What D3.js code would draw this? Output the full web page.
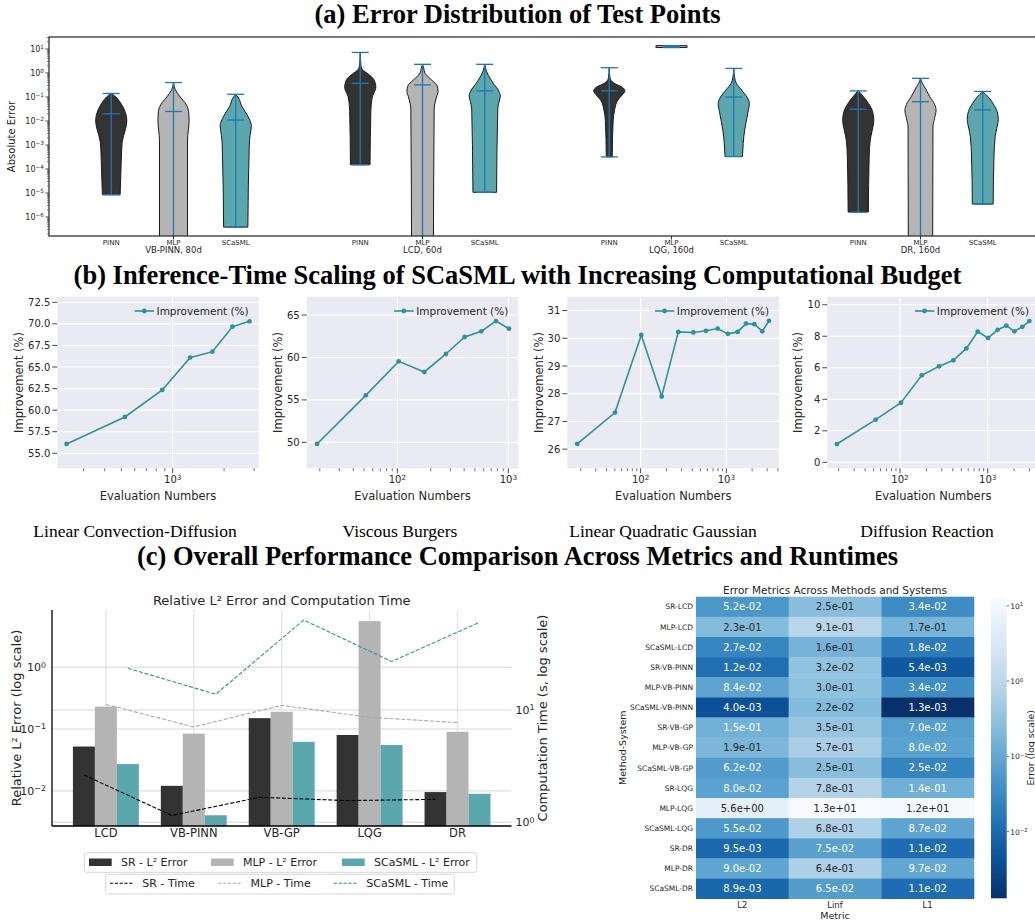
<!DOCTYPE html>
<html><head><meta charset="utf-8">
<script src="https://cdn.jsdelivr.net/npm/d3@7"></script>
<style>body{margin:0;background:#fff}svg{display:block}</style>
</head><body>
<script>
// ---------------- DATA ----------------
// (a) violins
const vGroups = ["VB-PINN, 80d", "LCD, 60d", "LQG, 160d", "DR, 160d"];
const vMethods = ["PINN", "MLP", "SCaSML"];
const vMin = [[8.5e-6, 1e-8, 3.8e-7], [1.5e-4, 1e-8, 1.07e-5], [3.2e-4, 11.5, 3.3e-4], [1.6e-6, 1e-8, 3.5e-6]];
const vMax = [[0.14, 0.4, 0.13], [7.2, 2.3, 2.3], [1.66, 13.8, 1.55], [0.18, 0.6, 0.17]];
const vMed = [[0.02, 0.025, 0.011], [0.37, 0.32, 0.18], [0.18, 12.5, 0.1], [0.031, 0.064, 0.029]];
// density profile: [log10(error), relative half width]
const vShape = [
  [
    [[-0.85,0],[-1.0,0.3],[-1.2,0.55],[-1.5,0.82],[-1.8,0.97],[-2.0,1.0],[-2.3,0.93],[-2.6,0.8],[-2.9,0.7],[-3.5,0.65],[-4.5,0.6],[-5.07,0.57]],
    [[-0.4,0],[-0.7,0.12],[-1.0,0.43],[-1.3,0.8],[-1.6,0.97],[-2.0,1.0],[-2.4,0.95],[-2.8,0.9],[-8,0.9]],
    [[-0.89,0],[-1.0,0.14],[-1.4,0.4],[-1.8,0.78],[-2.2,1.0],[-2.6,0.92],[-3.0,0.87],[-6.42,0.78]]
  ],
  [
    [[0.86,0],[0.3,0.05],[0.1,0.2],[0.0,0.42],[-0.3,0.9],[-0.6,1.0],[-0.8,0.9],[-1.0,0.77],[-1.6,0.68],[-3.82,0.63]],
    [[0.36,0],[0.2,0.08],[0.0,0.15],[-0.3,0.6],[-0.55,0.95],[-0.77,1.0],[-1.0,0.9],[-1.5,0.75],[-8,0.7]],
    [[0.36,0],[0.1,0.1],[0.0,0.16],[-0.43,0.55],[-0.75,0.9],[-0.96,1.0],[-1.2,0.92],[-1.46,0.84],[-4.97,0.76]]
  ],
  [
    [[0.22,0],[-0.2,0.05],[-0.43,0.32],[-0.6,0.85],[-0.75,1.0],[-0.9,0.85],[-1.13,0.55],[-1.55,0.34],[-1.97,0.25],[-3.49,0.19]],
    [[1.14,1],[1.06,1]],
    [[0.19,0],[-0.2,0.06],[-0.43,0.17],[-0.71,0.5],[-1.0,0.85],[-1.26,1.0],[-1.68,0.9],[-2.38,0.7],[-3.48,0.56]]
  ],
  [
    [[-0.74,0],[-0.99,0.34],[-1.26,0.65],[-1.6,0.92],[-1.97,1.0],[-2.38,0.9],[-2.79,0.77],[-3.5,0.7],[-5.79,0.65]],
    [[-0.22,0],[-0.4,0.1],[-0.57,0.25],[-0.99,0.6],[-1.3,0.9],[-1.55,1.0],[-1.9,0.9],[-2.24,0.8],[-8,0.78]],
    [[-0.78,0],[-0.99,0.34],[-1.26,0.65],[-1.6,0.92],[-1.93,1.0],[-2.3,0.9],[-2.65,0.8],[-3.5,0.72],[-5.46,0.67]]
  ]
];
const vExpTicks = [-6, -5, -4, -3, -2, -1, 0, 1];

// (b) inference-time scaling
const bSubtitles = ["Linear Convection-Diffusion", "Viscous Burgers", "Linear Quadratic Gaussian", "Diffusion Reaction"];
const bEval1 = [239, 525, 869, 1264, 1709, 2240, 2818];
const bImp1  = [56.08, 59.21, 62.34, 66.09, 66.78, 69.68, 70.30];
const bEval2 = [18.9, 51.9, 102.8, 175, 274, 404, 571, 774, 1014];
const bImp2  = [49.81, 55.54, 59.54, 58.29, 60.41, 62.41, 63.08, 64.29, 63.39];
const bEval3 = [18.2, 50.2, 101.8, 176, 275, 412, 579, 792, 1045, 1355, 1698, 2124, 2632, 3150];
const bImp3  = [26.19, 27.32, 30.12, 27.90, 30.23, 30.21, 30.27, 30.35, 30.16, 30.23, 30.53, 30.51, 30.25, 30.63];
const bEval4 = [19.1, 52.8, 102.6, 177, 279, 406, 571, 769, 1009, 1300, 1633, 2014, 2485, 2988];
const bImp4  = [1.16, 2.71, 3.78, 5.52, 6.09, 6.47, 7.23, 8.29, 7.89, 8.41, 8.67, 8.31, 8.60, 8.96];
const bYTicks1 = [55, 57.5, 60, 62.5, 65, 67.5, 70, 72.5];
const bYTicks2 = [50, 55, 60, 65];
const bYTicks3 = [26, 27, 28, 29, 30, 31];
const bYTicks4 = [0, 2, 4, 6, 8, 10];

// (c) bars + time
const cCats = ["LCD", "VB-PINN", "VB-GP", "LQG", "DR"];
const errSR  = [0.052, 0.012, 0.15, 0.08, 0.0095];
const errMLP = [0.23, 0.084, 0.19, 5.6, 0.09];
const errSC  = [0.027, 0.004, 0.062, 0.055, 0.0089];
const timeSR  = [2.64, 1.15, 1.67, 1.56, 1.60];
const timeMLP = [11.2, 7.06, 11.0, 8.6, 7.72];
const timeSC  = [23.5, 13.8, 63.2, 27.0, 60.3];

// (c) heatmap (annotated values, and the values the cell shades read as)
const hRows = ["SR-LCD","MLP-LCD","SCaSML-LCD","SR-VB-PINN","MLP-VB-PINN","SCaSML-VB-PINN","SR-VB-GP","MLP-VB-GP","SCaSML-VB-GP","SR-LQG","MLP-LQG","SCaSML-LQG","SR-DR","MLP-DR","SCaSML-DR"];
const hCols = ["L2", "Linf", "L1"];
const hL2   = [5.2e-2,2.3e-1,2.7e-2,1.2e-2,8.4e-2,4.0e-3,1.5e-1,1.9e-1,6.2e-2,8.0e-2,5.6,5.5e-2,9.5e-3,9.0e-2,8.9e-3];
const hLinf = [2.5e-1,9.1e-1,1.6e-1,3.2e-2,3.0e-1,2.2e-2,3.5e-1,5.7e-1,2.5e-1,7.8e-1,13,6.8e-1,7.5e-2,6.4e-1,6.5e-2];
const hL1   = [3.4e-2,1.7e-1,1.8e-2,5.4e-3,3.4e-2,1.3e-3,7.0e-2,8.0e-2,2.5e-2,1.4e-1,12,8.7e-2,1.1e-2,9.7e-2,1.1e-2];
const hLinfShade = [2.5e-1,9.1e-1,1.6e-1,3.2e-1,3.0e-1,2.2e-1,3.5e-1,5.7e-1,2.5e-1,7.8e-1,13,6.8e-1,7.5e-2,6.4e-1,6.5e-2];
const hExpTicks = [-2, -1, 0, 1];

// ---------------- DRAW ----------------
const W = 1035, H = 922;
const SERIF = '"Liberation Serif","Times New Roman",Times,serif';
const SANS = '"DejaVu Sans",sans-serif';
const TXT = "#262626";
const svg = d3.select("body").append("svg").attr("width", W).attr("height", H).style("font-family", SANS);
const defs = svg.append("defs");

function pow10Label(sel, e) {
  sel.append("tspan").text("10");
  sel.append("tspan").attr("dy", "-0.45em").attr("font-size", "72%").text(e < 0 ? "\u2212" + (-e) : String(e));
}
function bigTitle(txt, y) {
  svg.append("text").attr("x", W / 2).attr("y", y).attr("text-anchor", "middle")
    .style("font-family", SERIF).attr("font-weight", "bold").attr("font-size", 26.5).attr("fill", "#000").text(txt);
}

// ===== (a) =====
bigTitle("(a) Error Distribution of Test Points", 23);
const aL = 49, aT = 37, aB = 236, aR = 1045;
const ax = d3.scaleLinear().domain([-1, 15]).range([aL, aR]);
const ay = d3.scaleLog().domain([Math.pow(10, -6.79), Math.pow(10, 1.5)]).range([aB, aT]);
defs.append("clipPath").attr("id", "clipA").append("rect").attr("x", aL).attr("y", aT).attr("width", aR - aL).attr("height", aB - aT);
const plotA = svg.append("g").attr("clip-path", "url(#clipA)");
const vColors = ["#333333", "#b4b4b4", "#5aa8ae"];
const hw = ax(0.25) - ax(0);
vGroups.forEach((g, gi) => vMethods.forEach((m, mi) => {
  const cx = ax(gi * 4 + mi);
  const area = d3.area().curve(d3.curveMonotoneY)
    .y(d => ay(Math.pow(10, d[0]))).x0(d => cx - d[1] * hw).x1(d => cx + d[1] * hw);
  plotA.append("path").attr("d", area(vShape[gi][mi])).attr("fill", vColors[mi])
    .attr("stroke", "#1a1a1a").attr("stroke-width", 1);
}));
const blue = "#1f77b4";
vGroups.forEach((g, gi) => vMethods.forEach((m, mi) => {
  const cx = ax(gi * 4 + mi);
  plotA.append("line").attr("x1", cx).attr("x2", cx).attr("y1", ay(vMin[gi][mi])).attr("y2", ay(vMax[gi][mi]))
    .attr("stroke", blue).attr("stroke-width", 1.3);
  [vMin[gi][mi], vMax[gi][mi], vMed[gi][mi]].forEach(v => {
    plotA.append("line").attr("x1", cx - 8.5).attr("x2", cx + 8.5).attr("y1", ay(v)).attr("y2", ay(v))
      .attr("stroke", blue).attr("stroke-width", 1.3);
  });
}));
svg.append("rect").attr("x", aL).attr("y", aT).attr("width", aR - aL).attr("height", aB - aT)
  .attr("fill", "none").attr("stroke", "#333").attr("stroke-width", 1.3);
for (let e = -7; e <= 1; e++) for (let k = 2; k <= 9; k++) {
  const v = k * Math.pow(10, e);
  if (v < ay.domain()[0] || v > ay.domain()[1]) continue;
  svg.append("line").attr("x1", aL - 2).attr("x2", aL).attr("y1", ay(v)).attr("y2", ay(v)).attr("stroke", "#333").attr("stroke-width", 0.7);
}
vExpTicks.forEach(e => {
  const y = ay(Math.pow(10, e));
  svg.append("line").attr("x1", aL - 3.5).attr("x2", aL).attr("y1", y).attr("y2", y).attr("stroke", "#333").attr("stroke-width", 0.9);
  const t = svg.append("text").attr("x", aL - 5).attr("y", y + 3).attr("text-anchor", "end").attr("font-size", 8).attr("fill", TXT);
  pow10Label(t, e);
});
svg.append("text").attr("transform", "translate(15," + ((aT + aB) / 2) + ") rotate(-90)").attr("text-anchor", "middle")
  .attr("font-size", 10).attr("fill", TXT).text("Absolute Error");
vGroups.forEach((g, gi) => {
  vMethods.forEach((m, mi) => {
    svg.append("text").attr("x", ax(gi * 4 + mi)).attr("y", 245.3).attr("text-anchor", "middle")
      .attr("font-size", 7).attr("fill", TXT).text(m);
  });
  svg.append("line").attr("x1", ax(gi * 4 + 1)).attr("x2", ax(gi * 4 + 1)).attr("y1", aB).attr("y2", aB + 3.5).attr("stroke", "#333");
  svg.append("text").attr("x", ax(gi * 4 + 1)).attr("y", 253.3).attr("text-anchor", "middle")
    .attr("font-size", 8.5).attr("fill", TXT).text(g);
});

// ===== (b) =====
bigTitle("(b) Inference-Time Scaling of SCaSML with Increasing Computational Budget", 284);
const bTop = 296.7, bBot = 468.3;
const bPanels = [
  { l: 57.3,  r: 258.7, xd: [Math.pow(10, 2.324), Math.pow(10, 3.504)], yd: [53.26, 73.15], ticks: bYTicks1, fmt: d3.format(".1f"), ev: bEval1, imp: bImp1, ylx: 19, sx: 135 },
  { l: 306.7, r: 518.3, xd: [Math.pow(10, 1.183), Math.pow(10, 3.09)],  yd: [46.94, 67.16], ticks: bYTicks2, fmt: d3.format("d"),   ev: bEval2, imp: bImp2, ylx: 278, sx: 400 },
  { l: 567.3, r: 779,   xd: [Math.pow(10, 1.144), Math.pow(10, 3.615)], yd: [25.31, 31.5],  ticks: bYTicks3, fmt: d3.format("d"),   ev: bEval3, imp: bImp3, ylx: 539, sx: 663 },
  { l: 827.3, r: 1039,  xd: [Math.pow(10, 1.171), Math.pow(10, 3.585)], yd: [-0.38, 10.51], ticks: bYTicks4, fmt: d3.format("d"),   ev: bEval4, imp: bImp4, ylx: 798, sx: 927 }
];
const teal = "#2b939a";
bPanels.forEach((p, i) => {
  const x = d3.scaleLog().domain(p.xd).range([p.l, p.r]);
  const y = d3.scaleLinear().domain(p.yd).range([bBot, bTop]);
  const g = svg.append("g");
  g.append("rect").attr("x", p.l).attr("y", bTop).attr("width", p.r - p.l).attr("height", bBot - bTop).attr("fill", "#eaeaf2");
  p.ticks.forEach(t => {
    g.append("line").attr("x1", p.l).attr("x2", p.r).attr("y1", y(t)).attr("y2", y(t)).attr("stroke", "#fff").attr("stroke-width", 1.1);
    g.append("line").attr("x1", p.l - 5).attr("x2", p.l).attr("y1", y(t)).attr("y2", y(t)).attr("stroke", "#333").attr("stroke-width", 0.9);
    g.append("text").attr("x", p.l - 7).attr("y", y(t) + 3.6).attr("text-anchor", "end").attr("font-size", 10).attr("fill", TXT).text(p.fmt(t));
  });
  const lo = Math.floor(Math.log10(p.xd[0])), hi = Math.ceil(Math.log10(p.xd[1]));
  for (let e = lo; e <= hi; e++) {
    for (let k = 1; k <= 9; k++) {
      const v = k * Math.pow(10, e);
      if (v < p.xd[0] || v > p.xd[1]) continue;
      const xx = x(v);
      if (k === 1) {
        g.append("line").attr("x1", xx).attr("x2", xx).attr("y1", bTop).attr("y2", bBot).attr("stroke", "#fff").attr("stroke-width", 1.1);
        g.append("line").attr("x1", xx).attr("x2", xx).attr("y1", bBot).attr("y2", bBot + 5).attr("stroke", "#333").attr("stroke-width", 0.9);
        const t = g.append("text").attr("x", xx).attr("y", bBot + 15).attr("text-anchor", "middle").attr("font-size", 10).attr("fill", TXT);
        pow10Label(t, e);
      } else {
        g.append("line").attr("x1", xx).attr("x2", xx).attr("y1", bBot).attr("y2", bBot + 3).attr("stroke", "#333").attr("stroke-width", 0.7);
      }
    }
  }
  const pts = p.ev.map((e, j) => [e, p.imp[j]]);
  g.append("path").attr("d", d3.line().x(d => x(d[0])).y(d => y(d[1]))(pts)).attr("fill", "none").attr("stroke", teal).attr("stroke-width", 1.6);
  g.selectAll(null).data(pts).join("circle").attr("cx", d => x(d[0])).attr("cy", d => y(d[1])).attr("r", 2.4).attr("fill", teal);
  const lt = g.append("text").attr("x", p.r - 10).attr("y", 314.5).attr("text-anchor", "end").attr("font-size", 10.5).attr("fill", TXT).text("Improvement (%)");
  const tw = lt.node().getComputedTextLength();
  const lx2 = p.r - 10 - tw - 2.5, lx1 = lx2 - 19.5;
  g.append("line").attr("x1", lx1).attr("x2", lx2).attr("y1", 311).attr("y2", 311).attr("stroke", teal).attr("stroke-width", 1.6);
  g.append("circle").attr("cx", (lx1 + lx2) / 2).attr("cy", 311).attr("r", 2.4).attr("fill", teal);
  g.append("text").attr("x", (p.l + p.r) / 2).attr("y", 499.5).attr("text-anchor", "middle").attr("font-size", 11.5).attr("fill", TXT).text("Evaluation Numbers");
  g.append("text").attr("transform", "translate(" + (p.ylx + 4) + "," + ((bTop + bBot) / 2) + ") rotate(-90)").attr("text-anchor", "middle")
    .attr("font-size", 11.5).attr("fill", TXT).text("Improvement (%)");
  svg.append("text").attr("x", p.sx).attr("y", 537).attr("text-anchor", "middle").style("font-family", SERIF)
    .attr("font-size", 17.5).attr("fill", "#000").text(bSubtitles[i]);
});

// ===== (c) =====
bigTitle("(c) Overall Performance Comparison Across Metrics and Runtimes", 565);
const cL = 52, cR = 511.5, cT = 610, cB = 826;
const cx = d3.scaleLinear().domain([-0.613, 4.614]).range([cL, cR]);
const cyL = d3.scaleLog().domain([Math.pow(10, -2.572), Math.pow(10, 0.929)]).range([cB, cT]);
const cyR = d3.scaleLog().domain([Math.pow(10, -0.033), Math.pow(10, 1.89)]).range([cB, cT]);
const gC = svg.append("g");
const gridC = "#e4e4e4";
cCats.forEach((c, i) => gC.append("line").attr("x1", cx(i)).attr("x2", cx(i)).attr("y1", cT).attr("y2", cB).attr("stroke", gridC).attr("stroke-width", 1.4));
[-2, -1, 0].forEach(e => gC.append("line").attr("x1", cL).attr("x2", cR).attr("y1", cyL(Math.pow(10, e))).attr("y2", cyL(Math.pow(10, e))).attr("stroke", gridC).attr("stroke-width", 1.4));
[0, 1].forEach(e => gC.append("line").attr("x1", cL).attr("x2", cR).attr("y1", cyR(Math.pow(10, e))).attr("y2", cyR(Math.pow(10, e))).attr("stroke", gridC).attr("stroke-width", 1.4));
const barSets = [[errSR, "#333333", -0.25], [errMLP, "#b4b4b4", 0], [errSC, "#5aa8ae", 0.25]];
barSets.forEach(([vals, col, off]) => {
  gC.selectAll(null).data(vals).join("rect")
    .attr("x", (d, i) => cx(i + off - 0.125)).attr("width", cx(0.25) - cx(0))
    .attr("y", d => cyL(d)).attr("height", d => cB - cyL(d)).attr("fill", col);
});
const timeSets = [[timeSR, "#000000", -0.25], [timeMLP, "#aaaaaa", 0], [timeSC, teal, 0.25]];
timeSets.forEach(([vals, col, off]) => {
  gC.append("path").attr("d", d3.line().x((d, i) => cx(i + off)).y(d => cyR(d))(vals))
    .attr("fill", "none").attr("stroke", col).attr("stroke-width", 1.1).attr("stroke-dasharray", "4,1.8");
});
gC.append("line").attr("x1", cL).attr("x2", cL).attr("y1", cT).attr("y2", cB).attr("stroke", "#000").attr("stroke-width", 1.3);
gC.append("line").attr("x1", cL).attr("x2", cR).attr("y1", cB).attr("y2", cB).attr("stroke", "#000").attr("stroke-width", 1.3);
[-2, -1, 0].forEach(e => {
  const t = gC.append("text").attr("x", cL - 6).attr("y", cyL(Math.pow(10, e)) + 4).attr("text-anchor", "end").attr("font-size", 11).attr("fill", TXT);
  pow10Label(t, e);
});
[0, 1].forEach(e => {
  const t = gC.append("text").attr("x", cR + 4).attr("y", cyR(Math.pow(10, e)) + 4).attr("text-anchor", "start").attr("font-size", 11).attr("fill", TXT);
  pow10Label(t, e);
});
cCats.forEach((c, i) => gC.append("text").attr("x", cx(i)).attr("y", 837).attr("text-anchor", "middle").attr("font-size", 11.5).attr("fill", TXT).text(c));
gC.append("text").attr("x", (cL + cR) / 2).attr("y", 605).attr("text-anchor", "middle").attr("font-size", 13).attr("fill", TXT).text("Relative L\u00b2 Error and Computation Time");
gC.append("text").attr("transform", "translate(21," + ((cT + cB) / 2) + ") rotate(-90)").attr("text-anchor", "middle").attr("font-size", 13).attr("fill", TXT).text("Relative L\u00b2 Error (log scale)");
gC.append("text").attr("transform", "translate(547," + ((cT + cB) / 2) + ") rotate(-90)").attr("text-anchor", "middle").attr("font-size", 13).attr("fill", TXT).text("Computation Time (s, log scale)");
gC.append("rect").attr("x", 84.3).attr("y", 852.7).attr("width", 392.4).attr("height", 19.6).attr("rx", 2.5).attr("fill", "#fff").attr("stroke", "#d6d6d6");
[["SR - L\u00b2 Error", "#333333", 89], ["MLP - L\u00b2 Error", "#b4b4b4", 211], ["SCaSML - L\u00b2 Error", "#5aa8ae", 342]].forEach(([t, c, x]) => {
  gC.append("rect").attr("x", x).attr("y", 858.5).attr("width", 22.7).attr("height", 7.5).attr("fill", c);
  gC.append("text").attr("x", x + 32).attr("y", 866.3).attr("font-size", 11).attr("fill", TXT).text(t);
});
gC.append("rect").attr("x", 105.7).attr("y", 874.3).attr("width", 348.6).attr("height", 19.7).attr("rx", 2.5).attr("fill", "#fff").attr("stroke", "#d6d6d6");
[["SR - Time", "#000000", 110], ["MLP - Time", "#aaaaaa", 218.3], ["SCaSML - Time", teal, 334]].forEach(([t, c, x]) => {
  gC.append("line").attr("x1", x).attr("x2", x + 22.7).attr("y1", 883.3).attr("y2", 883.3).attr("stroke", c).attr("stroke-width", 1.1).attr("stroke-dasharray", "3.2,1.6");
  gC.append("text").attr("x", x + 32.3).attr("y", 887.3).attr("font-size", 11).attr("fill", TXT).text(t);
});

// ===== heatmap =====
const hL = 696, hR = 974, hT = 596.7, hB = 898.7;
const hx = d3.scaleBand().domain(hCols).range([hL, hR]);
const hy = d3.scaleBand().domain(hRows).range([hT, hB]);
const vmin = 0.0013, vmax = 13;
const cnorm = d3.scaleLog().domain([vmin, vmax]).range([1, 0]).clamp(true);
const cmap = v => d3.interpolateBlues(cnorm(v));
function lum(c) {
  const r = d3.rgb(c);
  const f = u => { u /= 255; return u <= 0.03928 ? u / 12.92 : Math.pow((u + 0.055) / 1.055, 2.4); };
  return 0.2126 * f(r.r) + 0.7152 * f(r.g) + 0.0722 * f(r.b);
}
const fmtE = v => v.toExponential(1).replace(/e([+-])(\d)$/, "e$10$2");
const gH = svg.append("g");
const hCells = [];
hRows.forEach((r, i) => [[hL2, hL2], [hLinf, hLinfShade], [hL1, hL1]].forEach(([col, sh], j) => hCells.push({ r, c: hCols[j], v: col[i], s: sh[i] })));
gH.selectAll(null).data(hCells).join("rect").attr("x", d => hx(d.c)).attr("y", d => hy(d.r))
  .attr("width", hx.bandwidth() + 0.3).attr("height", hy.bandwidth() + 0.3).attr("fill", d => cmap(d.s));
gH.selectAll(null).data(hCells).join("text").attr("x", d => hx(d.c) + hx.bandwidth() / 2).attr("y", d => hy(d.r) + hy.bandwidth() / 2 + 3.6)
  .attr("text-anchor", "middle").attr("font-size", 10).attr("fill", d => lum(cmap(d.s)) > 0.408 ? TXT : "#ffffff").text(d => fmtE(d.v));
hRows.forEach(r => gH.append("text").attr("x", hL - 3).attr("y", hy(r) + hy.bandwidth() / 2 + 2.7).attr("text-anchor", "end").attr("font-size", 7.5).attr("fill", TXT).text(r));
hCols.forEach(c => gH.append("text").attr("x", hx(c) + hx.bandwidth() / 2).attr("y", 907.5).attr("text-anchor", "middle").attr("font-size", 8.5).attr("fill", TXT).text(c));
gH.append("text").attr("x", (hL + hR) / 2).attr("y", 919).attr("text-anchor", "middle").attr("font-size", 9.5).attr("fill", TXT).text("Metric");
gH.append("text").attr("transform", "translate(626," + ((hT + hB) / 2) + ") rotate(-90)").attr("text-anchor", "middle").attr("font-size", 9.5).attr("fill", TXT).text("Method-System");
gH.append("text").attr("x", (hL + hR) / 2).attr("y", 593.5).attr("text-anchor", "middle").attr("font-size", 10.5).attr("fill", TXT).text("Error Metrics Across Methods and Systems");
const cbL = 991, cbW = 15.7, cbT = 597.3, cbB = 898.3;
const cby = d3.scaleLog().domain([vmin, vmax]).range([cbB, cbT]);
const grad = defs.append("linearGradient").attr("id", "cbg").attr("x1", 0).attr("x2", 0).attr("y1", 1).attr("y2", 0);
d3.range(0, 1.0001, 0.05).forEach(t => grad.append("stop").attr("offset", t).attr("stop-color", d3.interpolateBlues(1 - t)));
gH.append("rect").attr("x", cbL).attr("y", cbT).attr("width", cbW).attr("height", cbB - cbT).attr("fill", "url(#cbg)");
hExpTicks.forEach(e => {
  const yy = cby(Math.pow(10, e));
  gH.append("line").attr("x1", cbL + cbW).attr("x2", cbL + cbW + 2.5).attr("y1", yy).attr("y2", yy).attr("stroke", "#333").attr("stroke-width", 0.7);
  const t = gH.append("text").attr("x", cbL + cbW + 3.5).attr("y", yy + 3).attr("font-size", 7.5).attr("fill", TXT);
  pow10Label(t, e);
});
gH.append("text").attr("transform", "translate(1034," + ((cbT + cbB) / 2) + ") rotate(-90)").attr("text-anchor", "middle").attr("font-size", 9.5).attr("fill", TXT).text("Error (log scale)");
</script>
</body></html>
